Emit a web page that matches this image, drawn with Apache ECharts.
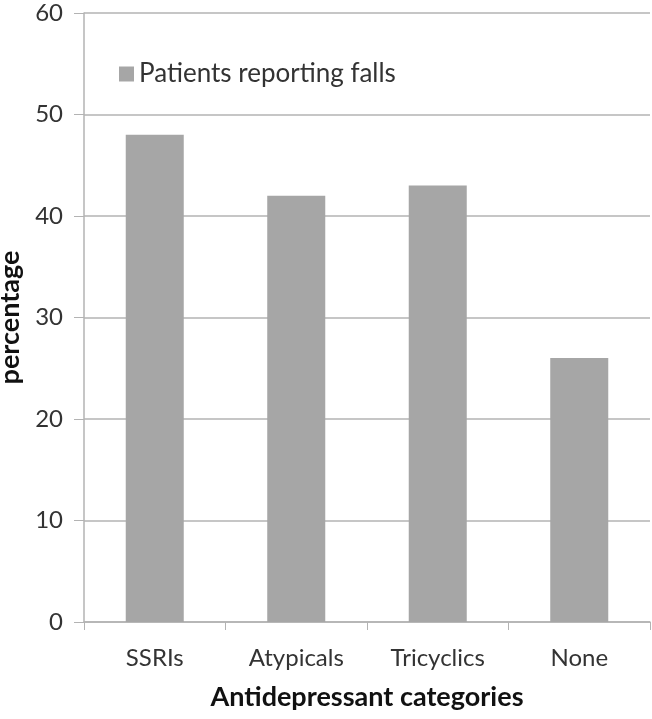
<!DOCTYPE html>
<html><head><meta charset="utf-8">
<script src="https://cdn.jsdelivr.net/npm/echarts@6/dist/echarts.min.js"></script>
<style>html,body{margin:0;padding:0;background:#fff}#c{width:652px;height:719px}</style>
</head><body><div id="c"></div>
<script>
const categories = ['SSRIs', 'Atypicals', 'Tricyclics', 'None'];
const fallsValues = [48, 42, 43, 26];
const seriesName = 'Patients reporting falls';
const FONT = 'Lato';
const chart = echarts.init(document.getElementById('c'));
chart.setOption({
  animation: false,
  textStyle: { fontFamily: FONT },
  legend: {
    left: 114, top: 56, itemWidth: 15, itemHeight: 15,
    icon: 'rect',
    textStyle: { fontSize: 26, color: '#333', fontFamily: FONT },
    data: [seriesName]
  },
  grid: { left: 84, right: 2, top: 13, bottom: 97, containLabel: false, outerBoundsMode: 'none' },
  xAxis: {
    type: 'category', data: categories,
    name: 'Antidepressant categories', nameLocation: 'middle', nameGap: 62,
    nameTextStyle: { fontSize: 27, fontWeight: 'bold', color: '#111', fontFamily: FONT },
    axisLine: { lineStyle: { color: '#b3b3b3', width: 1.5 } },
    axisTick: { show: true, length: 8, lineStyle: { color: '#b3b3b3' } },
    axisLabel: { fontSize: 24, color: '#333', margin: 24, fontFamily: FONT }
  },
  yAxis: {
    type: 'value', min: 0, max: 60, interval: 10,
    name: 'percentage', nameLocation: 'middle', nameGap: 57, nameRotate: 90,
    nameTextStyle: { fontSize: 27, fontWeight: 'bold', color: '#111', fontFamily: FONT },
    axisLine: { show: true, lineStyle: { color: '#b3b3b3', width: 1.5 } },
    axisTick: { show: true, inside: false, length: 10, lineStyle: { color: '#b3b3b3' } },
    axisLabel: { fontSize: 24, color: '#333', margin: 21, fontFamily: FONT },
    splitLine: { lineStyle: { color: '#b3b3b3', width: 1.5 } }
  },
  series: [{
    name: seriesName, type: 'bar', data: fallsValues,
    barWidth: '41%',
    itemStyle: { color: '#a6a6a6' }
  }]
});
</script></body></html>
